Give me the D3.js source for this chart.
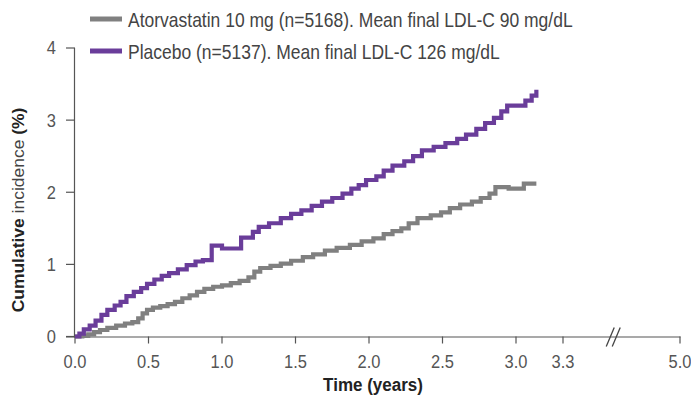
<!DOCTYPE html>
<html>
<head>
<meta charset="utf-8">
<script src="https://cdn.jsdelivr.net/npm/d3@7"></script>
<style>
  body { margin: 0; background: #fff; }
  svg { display: block; font-family: "Liberation Sans", Arial, sans-serif; }
</style>
</head>
<body>
<svg id="chart" width="691" height="397"></svg>
<script>
// Cumulative incidence over time, two treatment arms (step curves)
const atorvaTime  = [0, 0.05, 0.09, 0.13, 0.17, 0.22, 0.28, 0.34, 0.39, 0.43, 0.46, 0.49, 0.53, 0.58, 0.63, 0.68, 0.73, 0.78, 0.83, 0.88, 0.94, 1.00, 1.06, 1.12, 1.18, 1.22, 1.26, 1.33, 1.40, 1.47, 1.55, 1.62, 1.70, 1.78, 1.87, 1.95, 2.03, 2.10, 2.16, 2.22, 2.27, 2.33, 2.42, 2.49, 2.55, 2.62, 2.70, 2.76, 2.82, 2.86, 2.95, 3.05, 3.13];
const atorvaValue = [0, 0.01, 0.03, 0.06, 0.09, 0.12, 0.15, 0.18, 0.20, 0.25, 0.32, 0.37, 0.40, 0.42, 0.45, 0.48, 0.53, 0.57, 0.62, 0.66, 0.69, 0.71, 0.74, 0.77, 0.82, 0.90, 0.95, 0.98, 1.01, 1.05, 1.10, 1.14, 1.19, 1.23, 1.27, 1.32, 1.36, 1.42, 1.46, 1.50, 1.57, 1.64, 1.68, 1.72, 1.78, 1.83, 1.87, 1.92, 1.98, 2.07, 2.05, 2.12, 2.12];

const placeboTime  = [0, 0.03, 0.06, 0.10, 0.14, 0.18, 0.22, 0.27, 0.31, 0.35, 0.40, 0.45, 0.49, 0.54, 0.59, 0.64, 0.70, 0.76, 0.82, 0.87, 0.93, 1.00, 1.13, 1.21, 1.25, 1.32, 1.40, 1.47, 1.54, 1.61, 1.68, 1.75, 1.82, 1.88, 1.93, 1.98, 2.05, 2.10, 2.16, 2.24, 2.30, 2.36, 2.44, 2.52, 2.60, 2.66, 2.73, 2.79, 2.85, 2.90, 2.94, 3.06, 3.10, 3.13];
const placeboValue = [0, 0.04, 0.10, 0.15, 0.22, 0.30, 0.37, 0.43, 0.48, 0.56, 0.62, 0.67, 0.73, 0.79, 0.84, 0.88, 0.93, 0.99, 1.04, 1.06, 1.26, 1.22, 1.37, 1.45, 1.52, 1.57, 1.64, 1.70, 1.75, 1.81, 1.87, 1.92, 1.98, 2.05, 2.10, 2.17, 2.22, 2.30, 2.37, 2.43, 2.50, 2.58, 2.63, 2.68, 2.74, 2.80, 2.88, 2.96, 3.03, 3.12, 3.20, 3.27, 3.34, 3.42];

const seriesNames  = ["Atorvastatin 10 mg (n=5168). Mean final LDL-C 90 mg/dL",
                      "Placebo (n=5137). Mean final LDL-C 126 mg/dL"];
const seriesColors = ["#808080", "#6a3d9a"];

const xTicks      = [0, 0.5, 1.0, 1.5, 2.0, 2.5, 3.0, 3.3, 5.0];
const xTickLabels = ["0.0", "0.5", "1.0", "1.5", "2.0", "2.5", "3.0", "3.3", "5.0"];
const yTicks      = [0, 1, 2, 3, 4];
const axisBreakAt = 4.03;   // position of the "//" break between 3.3 and 5.0

const svg = d3.select("#chart");
const STRETCH = 1.12;       // text is drawn slightly taller than wide

// Broken time axis: 0–3.3 on the main span, then a compressed jump to 5.0
const x = d3.scaleLinear().domain([0, 3.0, 3.3, 5.0]).range([75, 516, 563, 680]);
const y = d3.scaleLinear().domain([0, 4]).range([336.5, 48]);

const axisColor = "#555";
const tickColor = "#555";

function label(g, tx, ty, str, opts = {}) {
  const t = g.append("text")
    .attr("transform", `translate(${tx},${ty}) scale(1,${STRETCH})` + (opts.rotate ? ` rotate(${opts.rotate})` : ""))
    .attr("text-anchor", opts.anchor || "start")
    .attr("font-size", opts.size || 16)
    .attr("fill", opts.fill || "#444");
  if (opts.dy) t.attr("dy", opts.dy);
  if (opts.weight) t.attr("font-weight", opts.weight);
  t.text(str);
  return t;
}

// ---- y axis ----
const gy = svg.append("g");
gy.append("line")
  .attr("x1", x(0) - 0.5).attr("x2", x(0) - 0.5)
  .attr("y1", y(4)).attr("y2", y(0) + 1)
  .attr("stroke", axisColor).attr("stroke-width", 1.2);
yTicks.forEach(v => {
  gy.append("line")
    .attr("x1", x(0) - 9).attr("x2", x(0))
    .attr("y1", y(v)).attr("y2", y(v))
    .attr("stroke", axisColor).attr("stroke-width", 1.2);
  label(gy, 56, y(v), String(v), {anchor: "end", size: 16.5, dy: "0.35em", fill: tickColor});
});

// ---- x axis ----
const gx = svg.append("g");
gx.append("line")
  .attr("x1", x(0) - 9).attr("x2", x(5.0) + 0.5)
  .attr("y1", y(0) + 0.5).attr("y2", y(0) + 0.5)
  .attr("stroke", axisColor).attr("stroke-width", 1.2);
xTicks.forEach((v, i) => {
  gx.append("line")
    .attr("x1", x(v)).attr("x2", x(v))
    .attr("y1", y(0)).attr("y2", y(0) + 7)
    .attr("stroke", axisColor).attr("stroke-width", 1.2);
  label(gx, x(v), 368, xTickLabels[i], {anchor: "middle", size: 16.5, fill: tickColor});
});

// axis break marks
const bx = x(axisBreakAt);
[-3, 3].forEach(off => {
  gx.append("line")
    .attr("x1", bx + off - 4).attr("y1", y(0) + 10)
    .attr("x2", bx + off + 4).attr("y2", y(0) - 9)
    .attr("stroke", "#444").attr("stroke-width", 1.3);
});

// axis titles
label(svg, 373, 391, "Time (years)", {anchor: "middle", size: 17, weight: "bold", fill: "#222"});
const yt = label(svg, 24, 210, "", {anchor: "middle", size: 15.6, rotate: -90, fill: "#222"});
yt.append("tspan").attr("font-weight", "bold").text("Cumulative ");
yt.append("tspan").attr("font-weight", "normal").attr("fill", "#444").text("incidence ");
yt.append("tspan").attr("font-weight", "bold").text("(%)");

// ---- curves ----
const line = d3.line()
  .x(d => x(d[0]))
  .y(d => y(d[1]))
  .curve(d3.curveStepAfter);

const series = [
  d3.zip(atorvaTime, atorvaValue),
  d3.zip(placeboTime, placeboValue)
];

svg.append("g").selectAll("path")
  .data(series)
  .join("path")
  .attr("d", line)
  .attr("fill", "none")
  .attr("stroke", (d, i) => seriesColors[i])
  .attr("stroke-width", 4.2)
  .attr("stroke-linejoin", "miter");

// ---- legend ----
const legendY = [19, 51];
const lg = svg.append("g");
seriesNames.forEach((name, i) => {
  lg.append("line")
    .attr("x1", 90).attr("x2", 122)
    .attr("y1", legendY[i]).attr("y2", legendY[i])
    .attr("stroke", seriesColors[i]).attr("stroke-width", 5);
  label(lg, 128, legendY[i] + 7.8, name, {size: 17.5, fill: "#444"});
});
</script>
</body>
</html>
